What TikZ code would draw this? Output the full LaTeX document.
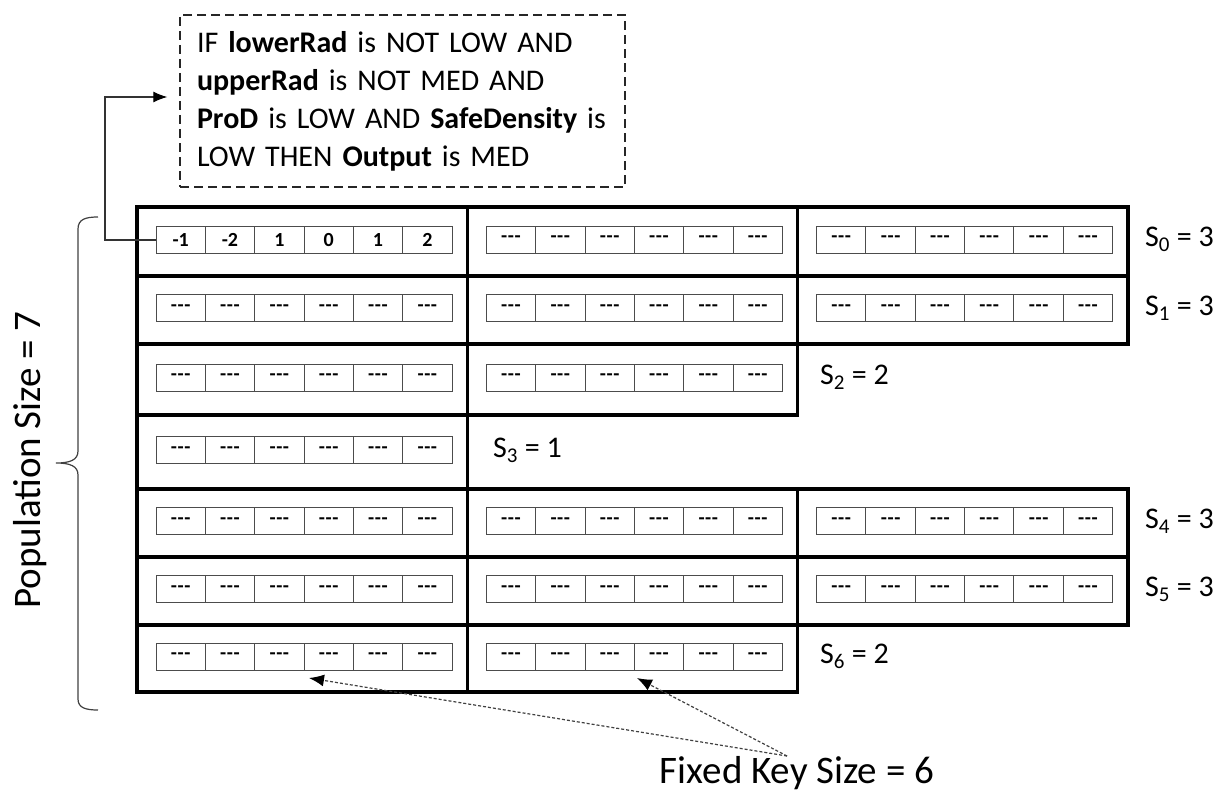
\documentclass[tikz,border=0pt]{standalone}
\usepackage{fontspec}
\setmainfont{Carlito}
\usetikzlibrary{arrows.meta}
\newcommand\keydash{-\kern0.6pt-\kern0.6pt-}
\begin{document}
\begin{tikzpicture}[x=1pt,y=-1pt,
  cellbox/.style={draw=black, line width=3.6pt},
  keycell/.style={draw=black!70, line width=0.9pt, minimum width=49.33pt, minimum height=27pt, inner sep=0pt, font=\fontsize{20}{20}\selectfont\bfseries},
  slabel/.style={anchor=west, font=\fontsize{30}{30}\selectfont, inner sep=0pt},
  bigtext/.style={font=\fontsize{39}{39}\selectfont, inner sep=0pt},
  rulebox/.style={draw=black!85, line width=1.4pt, dash pattern=on 9pt off 5pt, align=left, text width=425pt, inner xsep=10pt, minimum height=172pt, font=\fontsize{30}{38}\selectfont},
  link/.style={draw=black!80, line width=1.1pt},
  keyarrow/.style={draw=black!75, line width=1.2pt, dash pattern=on 3pt off 2pt, -{Latex[length=15pt,width=12pt,fill=black,color=black]}}]
\useasboundingbox (0,0) rectangle (1229,792);
% population rows
\foreach \r/\t/\b/\n in {0/207/276/3,1/276/344/3,2/344/415/2,3/415/489/1,4/489/557/3,5/557/625/3,6/625/692/2}{
  \pgfmathsetmacro\yc{(\t+\b)/2-2}
  \foreach \c in {1,...,\n}{
    \pgfmathsetmacro\xl{137+330.3*(\c-1)}
    \draw[cellbox] (\xl,\t) rectangle (\xl+330.3,\b);
    \ifnum\r=0 \ifnum\c=1 \else
      \foreach \k in {1,...,6}\node[keycell] (k-\r-\c-\k) at (\xl+19+24.67+49.33*\k-49.33,\yc) {\keydash};
    \fi\else
      \foreach \k in {1,...,6}\node[keycell] (k-\r-\c-\k) at (\xl+19+24.67+49.33*\k-49.33,\yc) {\keydash};
    \fi
  }
  \pgfmathsetmacro\sx{\n==3 ? 1145 : (\n==2 ? 820 : 493)}
  \node[slabel] (s-\r) at (\sx,\yc) {S\textsubscript{\r} = \n};
}
\foreach \k/\v in {1/-1,2/-2,3/1,4/0,5/1,6/2}
  \node[keycell] (k-0-1-\k) at (156+24.67+49.33*\k-49.33,240) {\v};
% rule box
\node[rulebox] (rule) at (402.5,101) {\hspace*{7pt}IF \textbf{lowerRad} is NOT LOW AND\\
\hspace*{7pt}\textbf{upperRad} is NOT MED AND\\
\hspace*{7pt}\textbf{ProD} is LOW AND \textbf{SafeDensity} is\\
\hspace*{7pt}LOW THEN \textbf{Output} is MED};
\coordinate (bend) at (105,97);
\draw[link, -{Latex[length=14pt,width=11pt,fill=black,color=black]}, shorten >=12pt] (k-0-1-1.west) -| (bend) -- (bend -| rule.west);
% brace
\draw[draw=black!75, line width=1.2pt] (98,217) .. controls (86,217) and (78,219) .. (78,229) -- (78,451) .. controls (78,460) and (70,463) .. (56,463) .. controls (70,463) and (78,466) .. (78,475) -- (78,699) .. controls (78,708) and (86,710) .. (98,710);
\node[bigtext, rotate=90] (pop) at (30,460) {Population Size = 7};
% fixed key size
\node[bigtext, anchor=base] (fks) at (797,783) {Fixed Key Size = 6};
\coordinate (fk) at (787,756);
\coordinate (t1) at (309,678);
\coordinate (t2) at (637,678);
\draw[keyarrow] (fk) -- (t1);
\draw[keyarrow] (fk) -- (t2);
\end{tikzpicture}
\end{document}
